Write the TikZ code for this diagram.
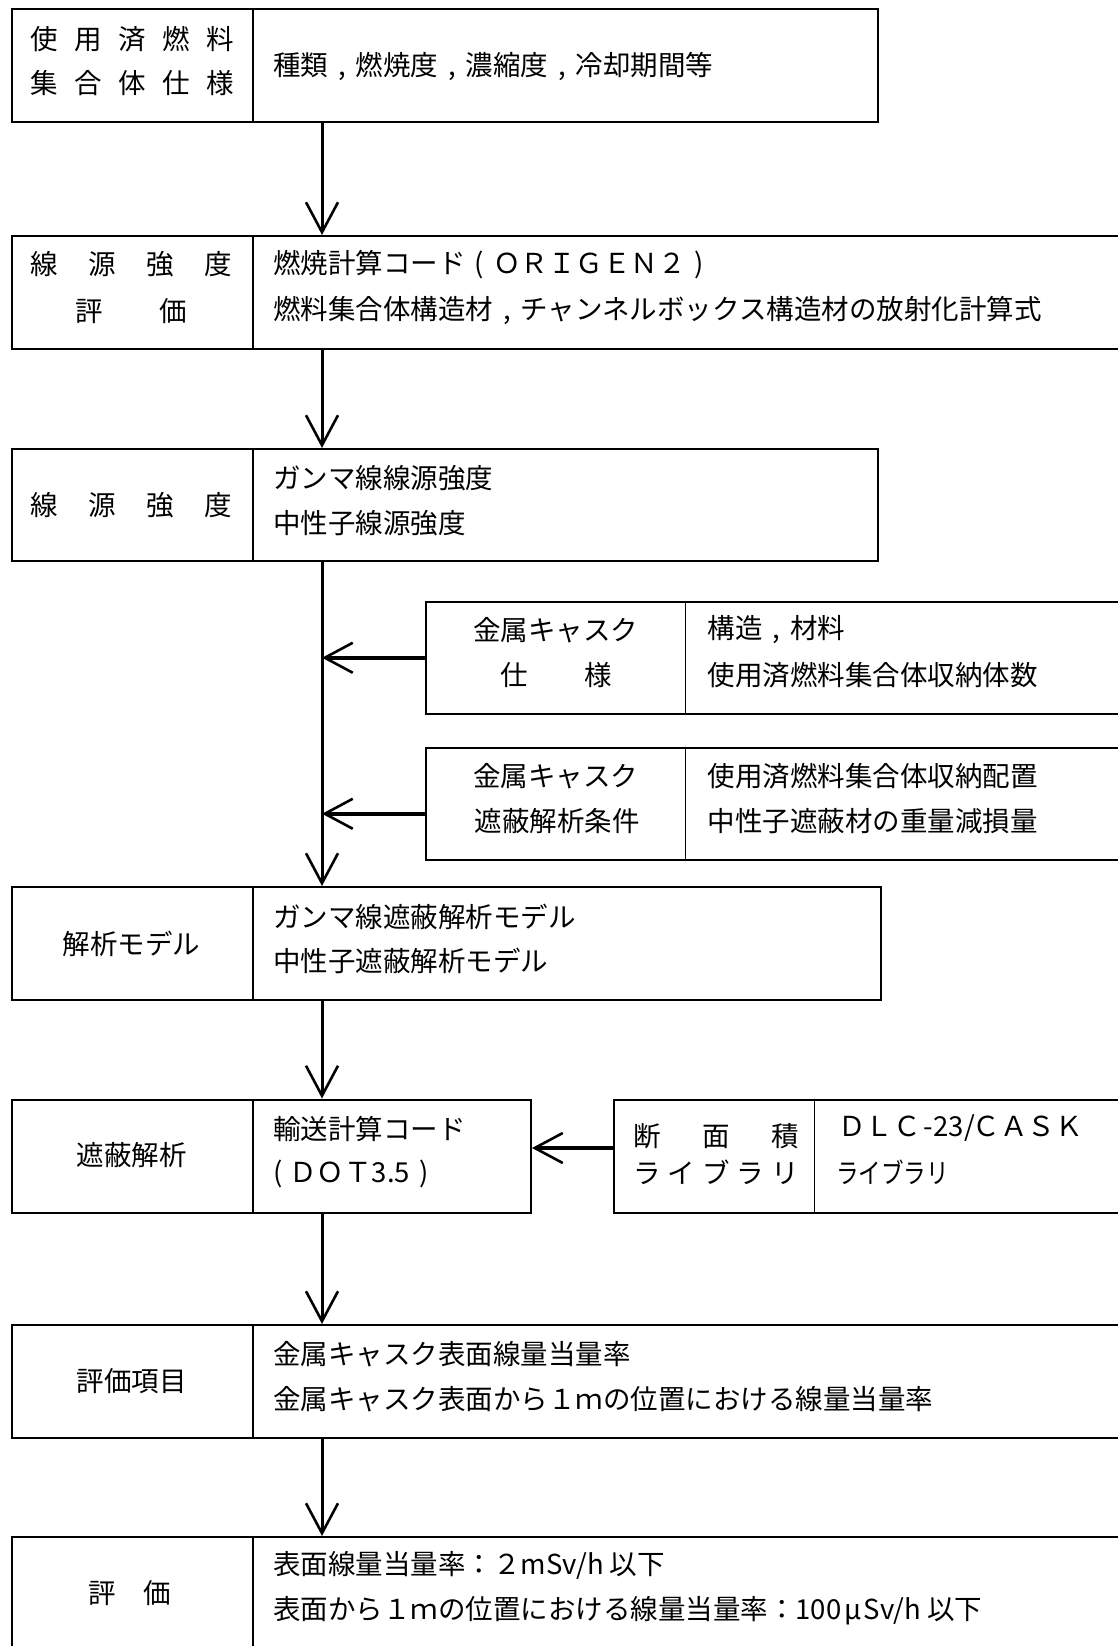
\documentclass[tikz,border=0pt]{standalone}
\usepackage{fontspec}
\usepackage{graphicx}
\setmainfont{Noto Sans CJK JP}
\usetikzlibrary{arrows.meta}
\newcommand{\jcm}{\makebox[1em][c]{,}}
\newcommand{\jlp}{\makebox[1em][c]{(}}
\newcommand{\jrp}{\makebox[1em][c]{)}}
\begin{document}
\begin{tikzpicture}[x=1pt,y=-1pt,
  box/.style={draw,line width=2pt,rectangle,inner sep=0pt,anchor=north west},
  divider/.style={line width=1.6pt},
  txt/.style={inner sep=0pt,font=\fontsize{27.5}{33}\selectfont},
  ltxt/.style={txt,anchor=west},
  ctxt/.style={txt,anchor=center},
  flow/.style={line width=3pt,-{Straight Barb[length=30pt,width=32pt,line width=2.6pt]}},
  flowh/.style={line width=4pt,-{Straight Barb[length=28pt,width=30pt,line width=2.6pt]}}]
\useasboundingbox (0,0) rectangle (1118,1646);
\clip (0,0) rectangle (1118,1646);
\fill[white] (0,0) rectangle (1118,1646);
\coordinate (ax) at (322,0);
% boxes
\node[box,minimum width=866pt,minimum height=112pt] (b1) at (10.5,8.5) {};
\node[box,minimum width=1130pt,minimum height=112.5pt] (b2) at (10.5,235) {};
\node[box,minimum width=866pt,minimum height=111.5pt] (b3) at (10.5,448) {};
\node[box,minimum width=720pt,minimum height=112.5pt] (b4) at (425,600.5) {};
\node[box,minimum width=720pt,minimum height=112.5pt] (b5) at (425,746.5) {};
\node[box,minimum width=869pt,minimum height=112.5pt] (b6) at (10.5,886) {};
\node[box,minimum width=519.5pt,minimum height=113pt] (b7) at (10.5,1098.5) {};
\node[box,minimum width=520pt,minimum height=113pt] (b8) at (612.5,1098.5) {};
\node[box,minimum width=1130pt,minimum height=113pt] (b9) at (10.5,1324) {};
\node[box,minimum width=1130pt,minimum height=140pt] (b10) at (10.5,1536) {};
% dividers
\draw[divider] (253,8.5) -- (253,120.5);
\draw[divider] (253,235) -- (253,347.5);
\draw[divider] (253,448) -- (253,559.5);
\draw[divider] (685.5,600.5) -- (685.5,713);
\draw[divider] (685.5,746.5) -- (685.5,859);
\draw[divider] (253,886) -- (253,998.5);
\draw[divider] (253,1098.5) -- (253,1211.5);
\draw[divider] (814.5,1098.5) -- (814.5,1211.5);
\draw[divider] (253,1324) -- (253,1437);
\draw[divider] (253,1536) -- (253,1660);
% box 1
\node[ctxt] (t1a) at (132,38.8) {使\kern16.5pt 用\kern16.5pt 済\kern16.5pt 燃\kern16.5pt 料};
\node[ctxt] (t1b) at (132,83) {集\kern16.5pt 合\kern16.5pt 体\kern16.5pt 仕\kern16.5pt 様};
\node[ltxt] (t1c) at (273,66) {種類\jcm 燃焼度\jcm 濃縮度\jcm 冷却期間等};
% box 2
\node[ctxt] (t2a) at (131.5,264.5) {線\kern30.5pt 源\kern30.5pt 強\kern30.5pt 度};
\node[ctxt] (t2b) at (131,310.7) {評\kern56.5pt 価};
\node[ltxt] (t2c) at (273,264.5) {燃焼計算コード\jlp ＯＲＩＧＥＮ２\jrp};
\node[ltxt] (t2d) at (273,310.7) {燃料集合体構造材\jcm チャンネルボックス構造材の放射化計算式};
% box 3
\node[ctxt] (t3a) at (131.5,505) {線\kern30.5pt 源\kern30.5pt 強\kern30.5pt 度};
\node[ltxt] (t3b) at (273,477.7) {ガンマ線線源強度};
\node[ltxt] (t3c) at (273,522.8) {中性子線源強度};
% box 4
\node[ctxt] (t4a) at (555.5,630) {金属キャスク};
\node[ctxt] (t4b) at (556.4,675) {仕\kern56.5pt 様};
\node[ltxt] (t4c) at (707.6,630) {構造\jcm 材料};
\node[ltxt] (t4d) at (707.6,675) {使用済燃料集合体収納体数};
% box 5
\node[ctxt] (t5a) at (555.5,776) {金属キャスク};
\node[ctxt] (t5b) at (557,821) {遮蔽解析条件};
\node[ltxt] (t5c) at (707.6,776) {使用済燃料集合体収納配置};
\node[ltxt] (t5d) at (707.6,821) {中性子遮蔽材の重量減損量};
% box 6
\node[ctxt] (t6a) at (131.5,944) {解析モデル};
\node[ltxt] (t6b) at (273,916.5) {ガンマ線遮蔽解析モデル};
\node[ltxt] (t6c) at (273,960.6) {中性子遮蔽解析モデル};
% box 7
\node[ctxt] (t7a) at (131.5,1155) {遮蔽解析};
\node[ltxt] (t7b) at (273,1128.5) {輸送計算コード};
\node[ltxt] (t7c) at (273,1174) {(\kern7pt ＤＯＴ3.5\jrp};
% box 8
\node[ctxt] (t8a) at (716,1136) {断\kern41.5pt 面\kern41.5pt 積};
\node[ctxt] (t8b) at (716,1172.6) {ラ\kern7pt イ\kern7pt ブ\kern7pt ラ\kern7pt リ};
\node[ltxt] (t8c) at (838,1128.5) {ＤＬＣ\kern3pt-23\kern1pt/\kern-3pt ＣＡＳＫ};
\node[ltxt] (t8d) at (836,1172.6) {\scalebox{0.82}[1]{ライブラリ}};
% box 9
\node[ctxt] (t9a) at (131.5,1381.6) {評価項目};
\node[ltxt] (t9b) at (273,1354) {金属キャスク表面線量当量率};
\node[ltxt] (t9c) at (273,1399) {金属キャスク表面から１ｍの位置における線量当量率};
% box 10
\node[ctxt] (t10a) at (129.6,1592.6) {評\kern28pt 価};
\node[ltxt] (t10b) at (273,1565) {表面線量当量率：２mSv/h 以下};
\node[ltxt] (t10c) at (273,1611) {表面から１ｍの位置における線量当量率：100\kern3pt μ\kern2pt Sv/h 以下};
% connectors
\draw[flow] (b1.south -| ax) -- (b2.north -| ax);
\draw[flow] (b2.south -| ax) -- (b3.north -| ax);
\draw[flow] (b3.south -| ax) -- (b6.north -| ax);
\draw[flowh] (b4.west) -- (b4.west -| ax);
\draw[flowh] ([yshift=-10pt]b5.west) -- ([yshift=-10pt]b5.west -| ax);
\draw[flow] (b6.south -| ax) -- (b7.north -| ax);
\draw[flowh] ([yshift=8pt]b8.west) -- ([yshift=8pt]b8.west -| b7.east);
\draw[flow] (b7.south -| ax) -- (b9.north -| ax);
\draw[flow] (b9.south -| ax) -- (b10.north -| ax);
\end{tikzpicture}
\end{document}
